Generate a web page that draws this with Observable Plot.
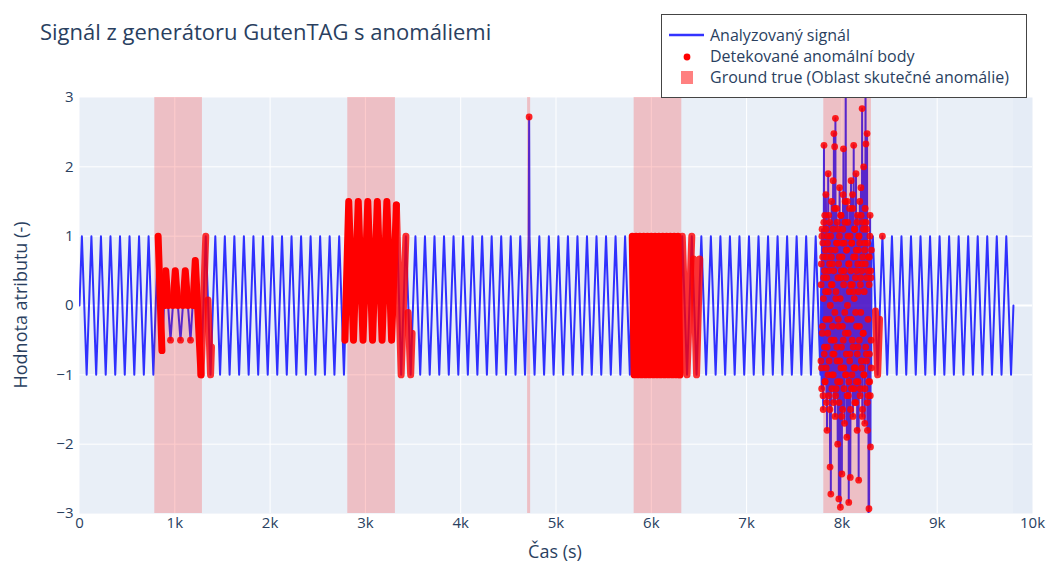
<!DOCTYPE html>
<html>
<head>
<meta charset="utf-8">
<script src="https://cdn.jsdelivr.net/npm/d3@7"></script>
<script src="https://cdn.jsdelivr.net/npm/@observablehq/plot@0.6"></script>
<style>
  body { margin: 0; background: #fff; font-family: "Open Sans", sans-serif; }
  #wrap { position: relative; width: 1051px; height: 563px; overflow: hidden; }
  #chart { position: absolute; left: 0; top: 0; }
  #title { position: absolute; left: 40px; top: 17px; font-size: 22px; line-height: 28px; color: #2a3f5f; white-space: nowrap; }
  #legend { position: absolute; left: 661px; top: 14px; width: 366px; height: 84px; box-sizing: border-box;
            border: 1px solid #444; background: #fff; }
  .li { position: absolute; left: 0; height: 22px; width: 362px; }
  .li svg { position: absolute; left: 0; top: 0; }
  .li span { position: absolute; left: 48px; top: 0; font-size: 16px; line-height: 22px; color: #2a3f5f; white-space: nowrap; }
  #xlab { position: absolute; left: 555px; top: 551px; transform: translate(-50%, -50%); font-size: 18px; color: #2a3f5f; white-space: nowrap; }
  #ylab { position: absolute; left: 20px; top: 305px; transform: translate(-50%, -50%) rotate(-90deg); font-size: 18px; color: #2a3f5f; white-space: nowrap; }
</style>
</head>
<body>
<div id="wrap">
  <div id="chart"></div>
  <div id="title">Signál z generátoru GutenTAG s anomáliemi</div>
  <div id="legend">
    <div class="li" style="top:9px"><svg width="44" height="22"><line x1="7" y1="11" x2="42" y2="11" stroke="blue" stroke-opacity="0.8" stroke-width="2.5"/></svg><span>Analyzovaný signál</span></div>
    <div class="li" style="top:30px"><svg width="44" height="22"><circle cx="25" cy="12" r="3.4" fill="red"/></svg><span>Detekované anomální body</span></div>
    <div class="li" style="top:51px"><svg width="44" height="22"><rect x="19" y="5" width="12" height="13" fill="rgb(255,128,128)"/></svg><span>Ground true (Oblast skutečné anomálie)</span></div>
  </div>
  <div id="xlab">Čas (s)</div>
  <div id="ylab">Hodnota atributu (-)</div>
</div>
<script>
// ---------- axis ticks ----------
const xTicks = [0, 1000, 2000, 3000, 4000, 5000, 6000, 7000, 8000, 9000, 10000];
const xTickLabels = ["0", "1k", "2k", "3k", "4k", "5k", "6k", "7k", "8k", "9k", "10k"];
const yTicks = [-3, -2, -1, 0, 1, 2, 3];
const yTickLabels = ["−3", "−2", "−1", "0", "1", "2", "3"];

// ---------- analysed signal (vertices) ----------
const partA_t = [0, 25, 75, 125, 175, 225, 275, 325, 375, 425, 475, 525, 575, 625, 675, 725, 775];
const partA_v = [0, 1, -1, 1, -1, 1, -1, 1, -1, 1, -1, 1, -1, 1, -1, 1, -1];
const anom1_t = [825, 865, 905, 955, 1005, 1060, 1110, 1165, 1215, 1275, 1325, 1375];
const anom1_v = [1, -0.65, 0.5, -0.5, 0.5, -0.5, 0.5, -0.5, 0.65, -1, 1, -1];
const partB_t = [1425, 1475, 1525, 1575, 1625, 1675, 1725, 1775, 1825, 1875, 1925, 1975, 2025, 2075, 2125, 2175, 2225, 2275, 2325, 2375, 2425, 2475, 2525, 2575, 2625, 2675, 2725, 2775];
const partB_v = [1, -1, 1, -1, 1, -1, 1, -1, 1, -1, 1, -1, 1, -1, 1, -1, 1, -1, 1, -1, 1, -1, 1, -1, 1, -1, 1, -1];
const anom2_t = [2825, 2875, 2925, 2975, 3025, 3075, 3125, 3175, 3225, 3275, 3325, 3375];
const anom2_v = [1.5, -0.5, 1.5, -0.5, 1.5, -0.5, 1.5, -0.5, 1.5, -0.5, 1.45, -1];
const partC_t = [3425, 3475, 3525, 3575, 3625, 3675, 3725, 3775, 3825, 3875, 3925, 3975, 4025, 4075, 4125, 4175, 4225, 4275, 4325, 4375, 4425, 4475, 4525, 4575, 4625, 4675];
const partC_v = [1, -1, 1, -1, 1, -1, 1, -1, 1, -1, 1, -1, 1, -1, 1, -1, 1, -1, 1, -1, 1, -1, 1, -1, 1, -1];
const spike_t = [4714, 4718, 4722, 4775];
const spike_v = [0.97, 2.72, 0.99, -1];
const partD_t = [4825, 4875, 4925, 4975, 5025, 5075, 5125, 5175, 5225, 5275, 5325, 5375, 5425, 5475, 5525, 5575, 5625, 5675, 5725, 5775];
const partD_v = [1, -1, 1, -1, 1, -1, 1, -1, 1, -1, 1, -1, 1, -1, 1, -1, 1, -1, 1, -1];
const anom4_t = [5800, 5820, 5840, 5860, 5880, 5900, 5920, 5940, 5960, 5980, 6000, 6020, 6040, 6060, 6080, 6100, 6120, 6140, 6160, 6180, 6200, 6220, 6240, 6260, 6280, 6300];
const anom4_v = [1, -1, 1, -1, 1, -1, 1, -1, 1, -1, 1, -1, 1, -1, 1, -1, 1, -1, 1, -1, 1, -1, 1, -1, 1, -1];
const partE_t = [6325, 6375, 6425, 6475, 6525, 6575, 6625, 6675, 6725, 6775, 6825, 6875, 6925, 6975, 7025, 7075, 7125, 7175, 7225, 7275, 7325, 7375, 7425, 7475, 7525, 7575, 7625, 7675, 7725, 7775];
const partE_v = [1, -1, 1, -1, 1, -1, 1, -1, 1, -1, 1, -1, 1, -1, 1, -1, 1, -1, 1, -1, 1, -1, 1, -1, 1, -1, 1, -1, 1, -1];
// noisy anomaly: samples every 2 steps from 7780 (even samples in noiseA, odd ones in noiseB)
const noiseStart = 7780, noiseStep = 4;
const noiseA_v = [
  -0.8, 0.6, -1.2, 1.1, -0.3, 0.9, -1.5, 0.4, 2.31, -0.6,
  1.3, -1.1, 0.2, 1.6, -0.9, 0.7, -1.8, 1.0, -0.4, 1.9,
  -1.3, 0.5, -0.2, 1.2, -2.33, 0.8, -2.72, 0.3, 1.5, -1.0,
  0.6, -0.7, 1.8, -1.4, 2.48, -0.5, 2.29, -1.6, 2.7, 0.1,
  -1.2, 1.4, -0.8, 0.9, -2.0, 1.1, -0.3, -2.79, 0.7, 1.7,
  -1.1, -2.91, 0.4, 1.3, -0.6, -2.43, 0.9, -1.5, 1.6, 2.26,
  -0.9, 0.5, -1.7, 1.2, -0.4, 3.5, -1.0, 0.8, -1.9, 1.5,
  -0.2, 1.0, -1.3, -2.84, 0.6, 1.4, -0.7, -2.48, 0.3, 1.8,
  -1.2, 0.9, -0.5, 1.6, -1.6, 0.2, 2.31, -0.9, 1.1, -1.4,
  0.7, -0.1, 1.9, -1.1, 0.5, -1.8, 1.3, -0.6, 0.8, -2.52,
  1.0, -0.3, 1.5, -1.2, 0.4, 1.7, -0.8, 0.6, 2.84, -1.5,
  1.2, -0.4, 2.0, -1.0, 0.9, -1.7, 1.4, 3.6, 2.33, -0.7,
  1.1, 2.48, -1.8, 0.5, -1.3, -3.4, -2.93, 0.7, -1.1, 1.3,
  -2.04, 0.4, -0.9
];
const noiseB_v = [
  0.3, -0.9, 1.0, -0.4, 0.7, -1.3, 0.1, 1.2, -0.7, 0.5,
  -1.1, 0.8, -0.2, 1.1, -1.4, 0.4, -0.6, 0.9, -1.0, 0.2,
  1.3, -0.8, 0.6, -1.5, 0.0, 1.0, -0.5, 0.7, -1.2, 0.3,
  -0.3, 1.1, -1.0, 0.5, -0.7, 1.4, -0.1, 0.8, -1.3, 0.2,
  0.9, -0.6, 1.2, -1.1, 0.4, -0.2, 0.6, -1.4, 1.0, -0.8,
  0.1, 1.3, -0.9, 0.5, -1.6, 0.7, -0.3, 1.1, -0.5, 0.3,
  -1.2, 0.9, -0.1, 1.5, -1.0, 0.4, -0.7, 0.8, -1.3, 0.0,
  1.2, -0.4, 0.6, -1.1, 0.2, -0.8, 1.0, -1.5, 0.5, -0.2,
  0.9, -1.0, 0.3, 1.4, -0.6, 0.7, -1.2, 0.1, 1.1, -0.9,
  0.4, -1.4, 0.8, -0.3, 1.2, -0.7, 0.6, -1.1, 0.2, 1.0,
  -0.5, 0.9, -1.3, 0.3, -0.1, 1.3, -0.9, 0.5, -1.6, 0.7,
  -0.4, 1.1, -1.0, 0.2, 0.8, -1.2, 0.6, -0.6, 1.2, -0.8,
  0.4, -1.4, 0.9, -0.2, 0.7, -1.1, 0.3, -0.7, 1.0, -1.3,
  0.5, -0.5, 0.8
];
const partF_t = [8325, 8375, 8425, 8475, 8525, 8575, 8625, 8675, 8725, 8775, 8825, 8875, 8925, 8975, 9025, 9075, 9125, 9175, 9225, 9275, 9325, 9375, 9425, 9475, 9525, 9575, 9625, 9675, 9725, 9775, 9800];
const partF_v = [1, -1, 1, -1, 1, -1, 1, -1, 1, -1, 1, -1, 1, -1, 1, -1, 1, -1, 1, -1, 1, -1, 1, -1, 1, -1, 1, -1, 1, -1, 0];

// ---------- detected anomalous points ----------
const detDense_t = [
  [825, 865], [888, 905, 930], [980, 1005, 1032], [1085, 1110, 1137], [1190, 1215, 1275],
  [2785, 2825, 2875, 2925, 2975, 3025, 3075, 3125, 3175, 3225, 3275, 3325],
  anom4_t
];
const detDense_v = [
  [1, -0.65], [0, 0.5, 0], [0, 0.5, 0], [0, 0.5, 0], [0, 0.65, -1],
  [-0.5, 1.5, -0.5, 1.5, -0.5, 1.5, -0.5, 1.5, -0.5, 1.5, -0.5, 1.45],
  anom4_v
];
const detLight_t = [[1275, 1325], [1348, 1375, 1385], [3325, 3375, 3425], [3448, 3475, 3490],
                    [6300, 6325, 6375, 6425], [6443, 6475, 6508], [8352, 8375, 8395]];
const detLight_v = [[-1, 1], [0.08, -1, -0.6], [1.45, -1, 1], [-0.1, -1, -0.4],
                    [-1, 1, -1, 1], [0.67, -1, 0.67], [-0.08, -1, -0.2]];
const detDot_t = [955, 1060, 1165, 4718, 8425];
const detDot_v = [-0.5, -0.5, -0.5, 2.72, 1];

// ---------- ground truth anomaly regions ----------
const gtStart = [790, 2815, 4702, 5820, 7810];
const gtEnd   = [1290, 3315, 4734, 6320, 8310];

// ---------- build tables ----------
const noise = noiseA_v.flatMap((v, i) => [
  {t: noiseStart + i * noiseStep, v},
  {t: noiseStart + i * noiseStep + noiseStep / 2, v: noiseB_v[i]}
]);
const parts = [[partA_t, partA_v], [anom1_t, anom1_v], [partB_t, partB_v], [anom2_t, anom2_v],
               [partC_t, partC_v], [spike_t, spike_v], [partD_t, partD_v], [anom4_t, anom4_v],
               [partE_t, partE_v]];
const signal = parts.flatMap(([T, V]) => T.map((t, i) => ({t, v: V[i]})))
  .concat(noise)
  .concat(partF_t.map((t, i) => ({t, v: partF_v[i]})));
const segs = (TT, VV) => TT.flatMap((T, s) => T.map((t, i) => ({t, v: VV[s][i], seg: s})));
const dense = segs(detDense_t, detDense_v);
const light = segs(detLight_t, detLight_v);
const dots = detDot_t.map((t, i) => ({t, v: detDot_v[i]})).concat(noise);
const bands = gtStart.map((s, i) => ({s, e: gtEnd[i]}));
const sigEnd = signal[signal.length - 1].t;

const chart = Plot.plot({
  width: 1051,
  height: 563,
  marginTop: 97,
  marginBottom: 50,
  marginLeft: 79,
  marginRight: 19,
  style: {fontFamily: '"Open Sans", sans-serif', fontSize: "15px", color: "#2a3f5f", background: "transparent"},
  x: {domain: [0, 10000]},
  y: {domain: [-3, 3]},
  marks: [
    Plot.frame({fill: "#E5ECF6", stroke: null}),
    Plot.rect([{a: 0, b: sigEnd}], {x1: "a", x2: "b", fill: "white", fillOpacity: 0.18}),
    Plot.ruleX(xTicks.filter(d => d > 0 && d < 10000), {stroke: "white", strokeWidth: 1}),
    Plot.ruleY(yTicks.filter(d => d !== 0 && Math.abs(d) < 3), {stroke: "white", strokeWidth: 1}),
    Plot.ruleY([0], {stroke: "white", strokeWidth: 2}),
    Plot.line(signal, {x: "t", y: "v", stroke: "blue", strokeOpacity: 0.8, strokeWidth: 2, clip: true}),
    Plot.line(dense, {x: "t", y: "v", z: "seg", stroke: "red", strokeWidth: 7, strokeLinecap: "round", strokeLinejoin: "round", clip: true}),
    Plot.line(light, {x: "t", y: "v", z: "seg", stroke: "red", strokeOpacity: 0.8, strokeWidth: 7, strokeLinecap: "round", strokeLinejoin: "round", clip: true}),
    Plot.dot(dots, {x: "t", y: "v", r: 3.4, fill: "red", fillOpacity: 0.85, stroke: null, clip: true}),
    Plot.rect(bands, {x1: "s", x2: "e", fill: "red", fillOpacity: 0.2}),
    Plot.axisX({ticks: xTicks, tickFormat: d => xTickLabels[xTicks.indexOf(d)], tickSize: 0, tickPadding: 4, label: null, fontSize: 15}),
    Plot.axisY({ticks: yTicks, tickFormat: d => yTickLabels[yTicks.indexOf(d)], tickSize: 0, tickPadding: 6, label: null, fontSize: 15})
  ]
});
document.getElementById("chart").appendChild(chart);
</script>
</body>
</html>
